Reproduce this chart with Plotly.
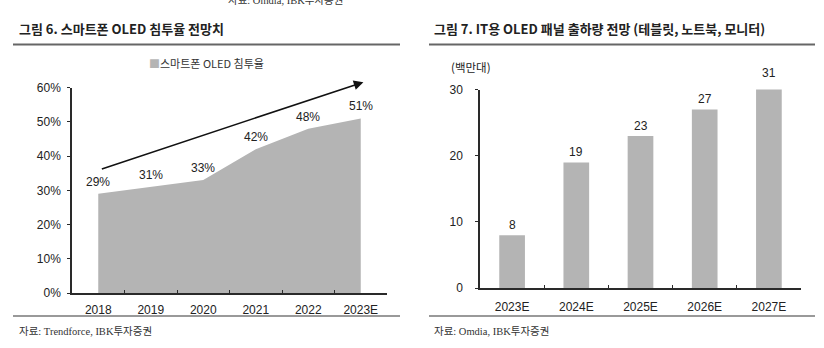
import plotly.graph_objects as go

W, H = 824, 348

# Figure 6: smartphone OLED penetration rate (%)
years = ["2018", "2019", "2020", "2021", "2022", "2023E"]
penetration = [29, 31, 33, 42, 48, 51]
pct_ticks = [0, 10, 20, 30, 40, 50, 60]

# Figure 7: IT OLED panel shipments (million units)
it_years = ["2023E", "2024E", "2025E", "2026E", "2027E"]
shipments = [8, 19, 23, 27, 31]
ship_ticks = [0, 10, 20, 30]

GRAY = "#b4b4b4"
AXIS = "#2a2a2a"
SANS = "Liberation Sans, Arial, Noto Sans CJK KR, sans-serif"
TITLE_FONT = dict(family="Noto Sans CJK KR, sans-serif", size=13, color="#222")
SRC_FONT = dict(family="Liberation Serif, Noto Sans CJK KR, serif", size=10.5, color="#333")
LABEL_FONT = dict(family=SANS, size=12, color="#222")

Y1_MAX = pct_ticks[-1]
Y2_MAX = ship_ticks[-1]


def px(x):
    return x / W


def py(y):
    return 1 - y / H


fig = go.Figure()

fig.add_trace(go.Scatter(
    x=years, y=penetration, xaxis="x", yaxis="y",
    mode="lines", fill="tozeroy", fillcolor=GRAY,
    line=dict(width=0, color=GRAY),
    showlegend=False, hoverinfo="skip",
))

fig.add_trace(go.Bar(
    x=it_years, y=shipments, xaxis="x2", yaxis="y2",
    marker=dict(color=GRAY, line=dict(width=0)),
    showlegend=False, hoverinfo="skip",
))

axis_common = dict(
    showline=True, linecolor=AXIS, linewidth=1.5, showgrid=False, zeroline=False,
    tickfont=dict(family=SANS, size=12, color="#222"),
)

fig.update_layout(
    width=W, height=H, margin=dict(l=0, r=0, t=0, b=0),
    paper_bgcolor="white", plot_bgcolor="white",
    bargap=0.6,
    xaxis=dict(domain=[px(72), px(387)], anchor="y", type="category",
               range=[-0.5, len(years) - 0.5], ticks="inside", ticklen=3, tickcolor=AXIS,
               tickson="boundaries", ticklabelstandoff=5, **axis_common),
    yaxis=dict(domain=[py(298), py(84)], anchor="x", range=[0, Y1_MAX],
               tickvals=pct_ticks, ticktext=[f"{v}%" for v in pct_ticks],
               ticks="outside", ticklen=3, tickcolor=AXIS, ticklabelstandoff=4,
               **axis_common),
    xaxis2=dict(domain=[px(480), px(801)], anchor="y2", type="category",
                range=[-0.5, len(it_years) - 0.5], ticks="inside", ticklen=3, tickcolor=AXIS,
                tickson="boundaries", ticklabelstandoff=7, **axis_common),
    yaxis2=dict(domain=[py(293), py(86)], anchor="x2", range=[0, Y2_MAX],
                tickvals=ship_ticks, ticks="outside", ticklen=3, tickcolor=AXIS,
                ticklabelstandoff=10, **axis_common),
)

shapes = [
    dict(type="line", xref="paper", yref="paper", x0=px(13), x1=px(400), y0=py(39), y1=py(39),
         line=dict(color="#666", width=2)),
    dict(type="line", xref="paper", yref="paper", x0=px(429), x1=px(815), y0=py(39), y1=py(39),
         line=dict(color="#666", width=2)),
    dict(type="line", xref="paper", yref="paper", x0=px(13), x1=px(400), y0=py(322), y1=py(322),
         line=dict(color="#777", width=1.5)),
    dict(type="line", xref="paper", yref="paper", x0=px(429), x1=px(815), y0=py(322), y1=py(322),
         line=dict(color="#777", width=1.5)),
]
fig.update_layout(shapes=shapes)

annotations = [
    # source note of the preceding figure, cut at the top edge
    dict(text="자료: Omdia, IBK투자증권", xref="paper", yref="paper", x=px(226), y=py(1),
         xanchor="left", yanchor="bottom", showarrow=False, font=SRC_FONT),
    dict(text="<b>그림 6. 스마트폰 OLED 침투율 전망치</b>", xref="paper", yref="paper",
         x=px(17), y=py(22), xanchor="left", yanchor="middle", showarrow=False, font=TITLE_FONT),
    dict(text="<b>그림 7. IT용 OLED 패널 출하량 전망 (테블릿, 노트북, 모니터)</b>", xref="paper",
         yref="paper", x=px(432), y=py(22), xanchor="left", yanchor="middle", showarrow=False,
         font=TITLE_FONT),
    dict(text=f"<span style='color:{GRAY}'>■</span>스마트폰 OLED 침투율", xref="paper", yref="paper",
         x=px(206), y=py(58), xanchor="center", yanchor="middle", showarrow=False,
         font=dict(family="Noto Sans CJK KR, sans-serif", size=11, color="#333")),
    dict(text="(백만대)", xref="paper", yref="paper", x=px(449), y=py(63),
         xanchor="left", yanchor="middle", showarrow=False,
         font=dict(family="Noto Sans CJK KR, sans-serif", size=11.5, color="#222")),
    dict(text="자료: Trendforce, IBK투자증권", xref="paper", yref="paper", x=px(17), y=py(338),
         xanchor="left", yanchor="middle", showarrow=False, font=SRC_FONT),
    dict(text="자료: Omdia, IBK투자증권", xref="paper", yref="paper", x=px(432), y=py(338),
         xanchor="left", yanchor="middle", showarrow=False, font=SRC_FONT),
    # upward trend arrow
    dict(text="", xref="x", yref="y", x=5.05, y=61.6, axref="x", ayref="y", ax=0.04, ay=36.1,
         showarrow=True, arrowhead=2, arrowsize=1.2, arrowwidth=1.6, arrowcolor="#111"),
]

# value labels above the area points (category index on the x axis)
for i, v in enumerate(penetration):
    annotations.append(dict(text=f"{v}%", xref="x", yref="y", x=i, y=v, xanchor="center",
                            yanchor="bottom", yshift=3, showarrow=False, font=LABEL_FONT))

# value labels above the bars, placed in axis-domain units so the top one stays visible
for i, v in enumerate(shipments):
    annotations.append(dict(text=str(v), xref="x2", yref="y2 domain", x=i, y=v / Y2_MAX,
                            xanchor="center", yanchor="bottom", yshift=1, showarrow=False,
                            font=LABEL_FONT))

fig.update_layout(annotations=annotations)

fig.write_html("out.html")
